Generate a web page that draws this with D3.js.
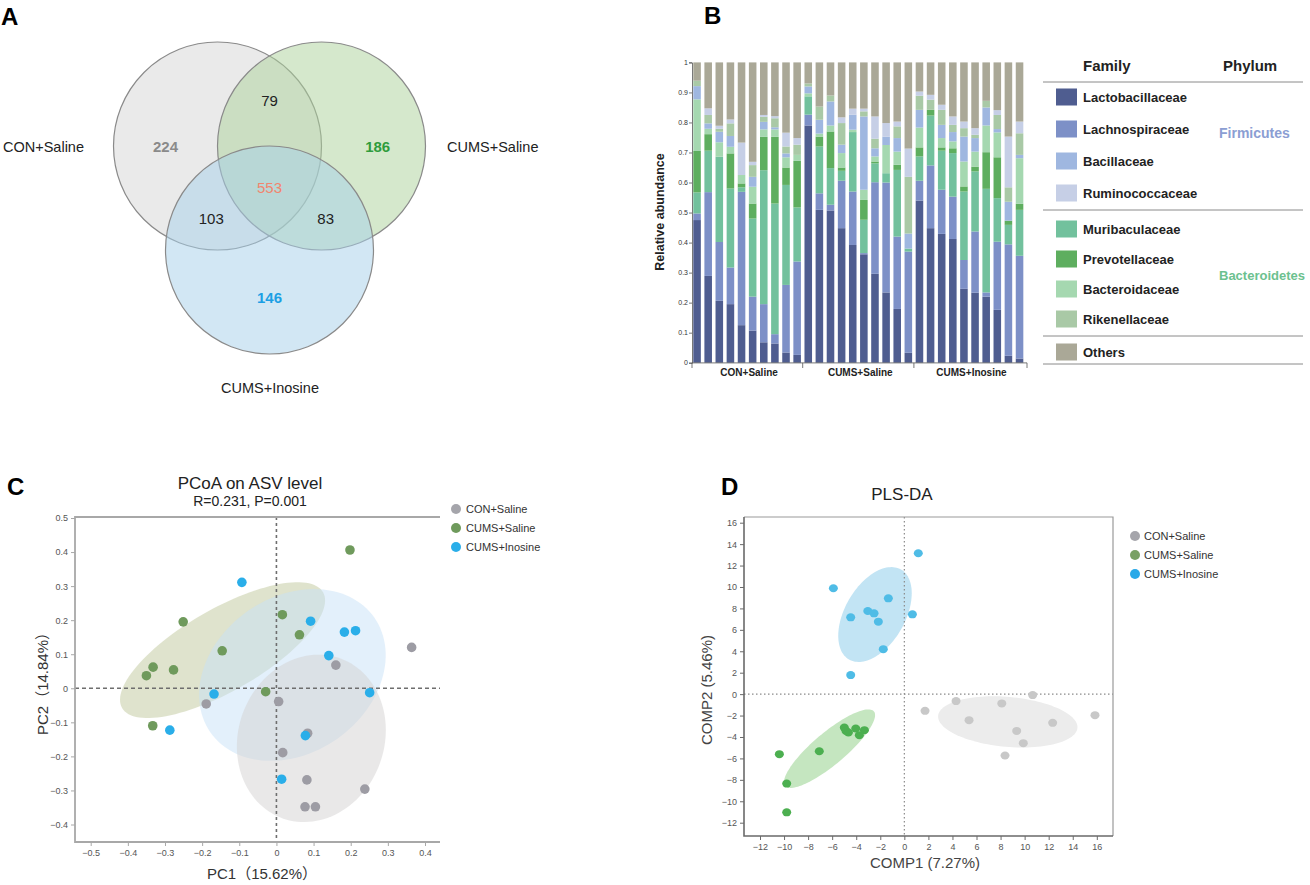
<!DOCTYPE html>
<html><head><meta charset="utf-8">
<script src="https://cdn.jsdelivr.net/npm/d3@7"></script>
<style>
body{margin:0;background:#fff}
svg{display:block}
text{font-family:"Liberation Sans",Arial,"Noto Sans CJK SC",sans-serif}
</style>
</head><body>
<svg id="fig" width="1310" height="885"></svg>
<script>
// ---------------- DATA ----------------
// Panel A (Venn)
const vennSets = ["CON+Saline", "CUMS+Saline", "CUMS+Inosine"];
const vennRegionKeys = ["A", "B", "C", "AB", "AC", "BC", "ABC"];
const vennCounts = [224, 186, 146, 79, 103, 83, 553];

// Panel B (stacked relative abundance)
const groupsB = ["CON+Saline", "CUMS+Saline", "CUMS+Inosine"];
const samplesB = d3.range(30).map(i => groupsB[Math.floor(i / 10)] + "_" + (i % 10 + 1));
const families = ["Lactobacillaceae", "Lachnospiraceae", "Bacillaceae", "Ruminococcaceae",
  "Muribaculaceae", "Prevotellaceae", "Bacteroidaceae", "Rikenellaceae", "Others"];
const phyla = ["Firmicutes", "Bacteroidetes"];
const lactobacillaceae = [.475,.289,.206,.195,.125,.107,.068,.064,.034,.026, .790,.509,.507,.448,.392,.361,.296,.234,.179,.033, .540,.448,.429,.412,.246,.233,.220,.176,.023,.014];
const lachnospiraceae  = [.022,.279,.196,.122,.444,.113,.127,.031,.225,.311, .036,.055,.019,.158,.178,.004,.305,.366,.241,.337, .066,.209,.147,.141,.096,.204,.014,.227,.371,.342];
const muribaculaceae   = [.070,.138,.284,.263,.015,.260,.446,.435,.333,.180, .061,.156,.122,.033,.198,.111,.063,.031,.222,.010, .081,.166,.130,.145,.228,.200,.345,.145,.065,.153];
const prevotellaceae   = [.138,.055,0,.117,.013,.050,.111,.222,.058,.155, 0,.033,.122,.011,0,.066,.006,0,.017,0, .030,.019,.011,.016,.017,.016,.122,.136,.014,.020];
const bacteroidaceae   = [.172,.018,.048,.022,.028,.056,.025,.025,.034,.020, .010,.010,.020,.048,.008,.034,.017,.094,.044,0, .066,0,.031,.023,.083,.050,.089,.083,0,.152];
const bacillaceae      = [.044,.018,.035,.036,0,.033,.025,.007,.013,0, .023,.046,.080,.028,.050,.244,.027,.028,.045,.050, .059,0,.044,.031,.083,.045,.060,.011,.063,.011];
const rikenellaceae    = [.018,.028,.010,.042,0,.039,.017,.030,.023,.034, .010,.044,.020,.072,0,.017,.032,0,.039,.189, .047,.034,.050,.024,.028,.011,.022,.047,.048,.072];
const ruminococcaceae  = [0,.022,.010,.013,.108,.011,.006,.007,.046,.022, 0,0,0,.019,.020,.009,.074,.045,.016,.094, .014,.016,.017,.028,.022,.022,0,.016,.169,.039];
const others           = [.061,.153,.211,.190,.267,.331,.175,.179,.234,.252, .070,.147,.110,.183,.154,.154,.180,.202,.197,.287, .097,.108,.141,.180,.197,.219,.128,.159,.247,.197];
const yTicksB = d3.range(0, 11).map(i => i / 10);

// Panel C (PCoA)
const groupNames = ["CON+Saline", "CUMS+Saline", "CUMS+Inosine"];
const pcoaCON  = [[0.364,0.12],[0.16,0.068],[-0.189,-0.046],[0.006,-0.039],[0.084,-0.132],[0.017,-0.189],[0.082,-0.269],[0.238,-0.296],[0.077,-0.348],[0.105,-0.348]];
const pcoaCUMS = [[-0.251,0.195],[-0.332,0.062],[-0.350,0.037],[-0.277,0.054],[-0.146,0.11],[0.198,0.406],[0.016,0.216],[0.062,0.157],[-0.029,-0.01],[-0.333,-0.11]];
const pcoaINO  = [[-0.093,0.311],[-0.168,-0.017],[0.092,0.197],[0.183,0.165],[0.213,0.169],[0.141,0.096],[0.251,-0.013],[-0.287,-0.123],[0.078,-0.139],[0.014,-0.267]];
// confidence ellipses: centre, major half-axis vector, minor half-axis vector (data units)
const pcoaEllCON  = {c:[0.094,-0.147], u:[0.0783,0.2345], v:[0.1846,-0.0734]};
const pcoaEllCUMS = {c:[-0.145,0.112], u:[0.2705,0.170], v:[0.0552,-0.1042]};
const pcoaEllINO  = {c:[0.043,0.039], u:[0.2205,0.1685], v:[0.1204,-0.1876]};
const pcoaXTicks = [-0.5,-0.4,-0.3,-0.2,-0.1,0,0.1,0.2,0.3,0.4];
const pcoaYTicks = [0.5,0.4,0.3,0.2,0.1,0,-0.1,-0.2,-0.3,-0.4];

// Panel D (PLS-DA)
const plsCON  = [[1.72,-1.56],[4.3,-0.65],[5.38,-2.43],[8.1,-0.87],[8.37,-5.73],[9.34,-3.43],[10.67,-0.09],[15.85,-1.96],[12.33,-2.68],[9.89,-4.58]];
const plsCUMS = [[-10.39,-5.6],[-9.78,-8.35],[-9.78,-11.03],[-7.07,-5.33],[-4.99,-3.12],[-4.85,-3.43],[-4.65,-3.58],[-4.04,-3.21],[-3.32,-3.36],[-3.74,-3.83]];
const plsINO  = [[1.16,13.15],[-5.9,9.88],[-1.33,8.94],[-3.04,7.76],[-2.52,7.54],[-4.46,7.17],[-2.16,6.76],[0.67,7.45],[-1.75,4.2],[-4.46,1.78]];
const plsEllCON  = {c:[8.6,-2.59], u:[5.79,-0.57], v:[-0.181,-2.32]};
const plsEllCUMS = {c:[-6.22,-5.09], u:[3.69,3.48], v:[0.856,-1.15]};
const plsEllINO  = {c:[-2.44,7.43], u:[2.16,4.20], v:[2.16,-1.40]};
const plsTicks = d3.range(-12, 17, 2);

// ---------------- DRAW ----------------
const svg = d3.select("#fig");
const FONT = '"Liberation Sans",Arial,"Noto Sans CJK SC",sans-serif';

function letter(t, x, y) {
  svg.append("text").attr("x", x).attr("y", y).text(t)
    .attr("font-size", 24).attr("font-weight", "bold").attr("fill", "#000");
}
letter("A", 1, 25); letter("B", 704, 24); letter("C", 7, 495); letter("D", 721, 495);

// ===== Panel A: Venn =====
(function () {
  const ux = d3.scaleLinear().domain([-1, 1]).range([269.5 - 104, 269.5 + 104]);
  const uy = d3.scaleLinear().domain([-1, 1]).range([198 - 104, 198 + 104]);
  const centers = [[-0.5, -0.5], [0.5, -0.5], [0, 0.5]];
  const fills = ["#d6d6d6", "#acd299", "#a6d0ea"];
  const g = svg.append("g");
  g.selectAll("circle").data(vennSets).join("circle")
    .attr("cx", (d, i) => ux(centers[i][0]))
    .attr("cy", (d, i) => uy(centers[i][1]))
    .attr("r", ux(1) - ux(0))
    .attr("fill", (d, i) => fills[i]).attr("fill-opacity", 0.5)
    .attr("stroke", "#8a8a8a").attr("stroke-width", 1.2);
  const pos = {A:[-1.0,-0.49], B:[1.04,-0.49], C:[0,0.96], AB:[0,-0.94], AC:[-0.56,0.2], BC:[0.54,0.2], ABC:[0,-0.1]};
  const col = {A:"#8a8a8a", B:"#2f9c3c", C:"#1c9fe4", AB:"#222", AC:"#222", BC:"#222", ABC:"#f2856e"};
  const bold = {A:1, B:1, C:1};
  g.selectAll("text.cnt").data(vennRegionKeys).join("text").attr("class", "cnt")
    .attr("x", k => ux(pos[k][0])).attr("y", k => uy(pos[k][1]))
    .attr("dy", "0.36em").attr("text-anchor", "middle")
    .attr("font-size", 15).attr("font-weight", k => bold[k] ? "bold" : "normal")
    .attr("fill", k => col[k])
    .text((k, i) => vennCounts[i]);
  const lab = [[3, 147, "start"], [447, 147, "start"], [270, 388, "middle"]];
  g.selectAll("text.set").data(vennSets).join("text").attr("class", "set")
    .attr("x", (d, i) => lab[i][0]).attr("y", (d, i) => lab[i][1])
    .attr("dy", "0.36em").attr("text-anchor", (d, i) => lab[i][2])
    .attr("font-size", 14.5).attr("fill", "#222").text(d => d);
})();

// ===== Panel B: stacked bars =====
(function () {
  const series = {
    "Lactobacillaceae": lactobacillaceae, "Lachnospiraceae": lachnospiraceae,
    "Bacillaceae": bacillaceae, "Ruminococcaceae": ruminococcaceae,
    "Muribaculaceae": muribaculaceae, "Prevotellaceae": prevotellaceae,
    "Bacteroidaceae": bacteroidaceae, "Rikenellaceae": rikenellaceae, "Others": others
  };
  const colors = {
    "Lactobacillaceae": "#4f5d90", "Lachnospiraceae": "#7d90c7", "Bacillaceae": "#9fb7e0",
    "Ruminococcaceae": "#c6cfe6", "Muribaculaceae": "#72c19d", "Prevotellaceae": "#5eae5f",
    "Bacteroidaceae": "#a5d8b0", "Rikenellaceae": "#a9c9a6", "Others": "#aaa897"
  };
  const stackOrder = ["Lactobacillaceae", "Lachnospiraceae", "Muribaculaceae", "Prevotellaceae",
    "Bacteroidaceae", "Bacillaceae", "Rikenellaceae", "Ruminococcaceae", "Others"];
  const table = samplesB.map((s, i) => {
    const o = {sample: s};
    families.forEach(f => o[f] = series[f][i]);
    return o;
  });
  const stacked = d3.stack().keys(stackOrder)(table);
  const x = d3.scaleBand().domain(samplesB).range([691.5, 1025.1]).paddingInner(0.32).paddingOuter(0.16);
  const y = d3.scaleLinear().domain([0, 1]).range([362.7, 62.4]);
  const g = svg.append("g");
  g.selectAll("g.s").data(stacked).join("g").attr("class", "s")
    .attr("fill", d => colors[d.key])
    .selectAll("rect").data(d => d).join("rect")
    .attr("x", d => x(d.data.sample)).attr("width", x.bandwidth())
    .attr("y", d => y(Math.min(1, d[1]))).attr("height", d => Math.max(0, y(d[0]) - y(Math.min(1, d[1]))));
  // y axis
  const ax = g.append("g").attr("transform", "translate(692,0)")
    .call(d3.axisLeft(y).tickValues(yTicksB).tickSize(3).tickFormat(d => d === 0 ? "0" : d === 1 ? "1" : d3.format(".1f")(d)));
  ax.selectAll("text").attr("font-size", 7).attr("fill", "#333").attr("font-family", FONT).attr("x", -4);
  ax.selectAll("line,path").attr("stroke", "#555").attr("stroke-width", 0.8);
  // x axis line with group dividers
  g.append("line").attr("x1", 692).attr("x2", 1027).attr("y1", 362.9).attr("y2", 362.9).attr("stroke", "#555").attr("stroke-width", 0.8);
  const divs = [0, 10, 20, 30];
  divs.forEach(k => {
    const xx = k === 0 ? 692 : k === 30 ? 1027 : (x(samplesB[k - 1]) + x.bandwidth() + x(samplesB[k])) / 2;
    g.append("line").attr("x1", xx).attr("x2", xx).attr("y1", 362.9).attr("y2", 368).attr("stroke", "#555").attr("stroke-width", 0.8);
  });
  groupsB.forEach((gn, gi) => {
    const x0 = x(samplesB[gi * 10]), x1 = x(samplesB[gi * 10 + 9]) + x.bandwidth();
    g.append("text").attr("x", (x0 + x1) / 2 + 2).attr("y", 376).attr("text-anchor", "middle")
      .attr("font-size", 10).attr("font-weight", "bold").attr("fill", "#222").text(gn);
  });
  g.append("text").attr("transform", "translate(664,212) rotate(-90)").attr("text-anchor", "middle")
    .attr("font-size", 12.5).attr("font-weight", "bold").attr("fill", "#222").text("Relative abundance");

  // legend table
  const L = svg.append("g");
  L.append("text").attr("x", 1083).attr("y", 71).attr("font-size", 15).attr("font-weight", "bold").attr("fill", "#222").text("Family");
  L.append("text").attr("x", 1223).attr("y", 71).attr("font-size", 15).attr("font-weight", "bold").attr("fill", "#222").text("Phylum");
  [82, 210, 336, 364].forEach(yy => L.append("line").attr("x1", 1043).attr("x2", 1303).attr("y1", yy).attr("y2", yy)
    .attr("stroke", "#8a8a8a").attr("stroke-width", 1));
  const rowY = (i) => i < 4 ? 97 + 32 * i : i < 8 ? 229 + 30 * (i - 4) : 352;
  L.selectAll("rect.sw").data(families).join("rect").attr("class", "sw")
    .attr("x", 1056).attr("width", 21).attr("y", (d, i) => rowY(i) - 8.5).attr("height", 17)
    .attr("fill", d => colors[d]);
  L.selectAll("text.fam").data(families).join("text").attr("class", "fam")
    .attr("x", 1083).attr("y", (d, i) => rowY(i)).attr("dy", "0.36em")
    .attr("font-size", 13).attr("font-weight", "bold").attr("fill", "#222").text(d => d);
  const phyCol = ["#8b9ed3", "#6cc18f"], phyY = [133, 275], phySize = [14, 13];
  L.selectAll("text.phy").data(phyla).join("text").attr("class", "phy")
    .attr("x", 1219).attr("y", (d, i) => phyY[i]).attr("dy", "0.36em")
    .attr("font-size", (d, i) => phySize[i]).attr("font-weight", "bold").attr("fill", (d, i) => phyCol[i]).text(d => d);
})();

function ellPath(e, xs, ys) {
  const pts = d3.range(0, 361, 3).map(t => {
    const r = t * Math.PI / 180;
    return [xs(e.c[0] + Math.cos(r) * e.u[0] + Math.sin(r) * e.v[0]),
            ys(e.c[1] + Math.cos(r) * e.u[1] + Math.sin(r) * e.v[1])];
  });
  return d3.line()(pts) + "Z";
}

// ===== Panel C: PCoA =====
(function () {
  const x = d3.scaleLinear().domain([-0.5, 0.4]).range([90.7, 425]);
  const y = d3.scaleLinear().domain([0.5, -0.4]).range([518, 824.5]);
  const L = 75, R = 440, T = 517, B = 842;
  const g = svg.append("g");
  g.append("text").attr("x", 250).attr("y", 489).attr("text-anchor", "middle").attr("font-size", 17).attr("fill", "#222").text("PCoA on ASV level");
  g.append("text").attr("x", 250).attr("y", 506).attr("text-anchor", "middle").attr("font-size", 14).attr("fill", "#222").text("R=0.231, P=0.001");
  const ells = [[pcoaEllCUMS, "#bfc79c"], [pcoaEllINO, "#c8e2f7"], [pcoaEllCON, "#d4d1d1"]];
  g.selectAll("path.ell").data(ells).join("path").attr("class", "ell")
    .attr("d", d => ellPath(d[0], x, y)).attr("fill", d => d[1]).attr("fill-opacity", 0.5);
  // dashed zero lines
  g.append("line").attr("x1", L).attr("x2", R).attr("y1", y(0)).attr("y2", y(0)).attr("stroke", "#6e6e6e").attr("stroke-width", 1.6).attr("stroke-dasharray", "4,3");
  g.append("line").attr("x1", x(0)).attr("x2", x(0)).attr("y1", T).attr("y2", B).attr("stroke", "#6e6e6e").attr("stroke-width", 1.6).attr("stroke-dasharray", "3,3");
  // frame
  g.append("path").attr("d", `M${R},${T}H${L}V${B}H${R}`).attr("fill", "none").attr("stroke", "#a8a8a8").attr("stroke-width", 1.8);
  const xa = g.append("g").attr("transform", `translate(0,${B})`).call(d3.axisBottom(x).tickValues(pcoaXTicks).tickSize(4).tickFormat(d3.format("")));
  xa.select(".domain").remove();
  xa.selectAll("line").attr("stroke", "#a8a8a8");
  xa.selectAll("text").attr("font-size", 9).attr("fill", "#555").attr("font-family", FONT).attr("y", 8);
  const ya = g.append("g").attr("transform", `translate(${L},0)`).call(d3.axisLeft(y).tickValues(pcoaYTicks).tickSize(4).tickFormat(d3.format("")));
  ya.select(".domain").remove();
  ya.selectAll("line").attr("stroke", "#a8a8a8");
  ya.selectAll("text").attr("font-size", 9).attr("fill", "#555").attr("font-family", FONT).attr("x", -7);
  g.append("text").attr("x", 262).attr("y", 879).attr("text-anchor", "middle").attr("font-size", 15).attr("fill", "#333").text("PC1（15.62%）");
  g.append("text").attr("transform", "translate(48,680) rotate(-90)").attr("text-anchor", "middle").attr("font-size", 15).attr("fill", "#333").text("PC2（14.84%）");
  const sets = [[pcoaCON, "#9d9ca4"], [pcoaCUMS, "#6f9a5c"], [pcoaINO, "#2aaee9"]];
  sets.forEach(([pts, c]) => {
    g.append("g").selectAll("circle").data(pts).join("circle")
      .attr("cx", d => x(d[0])).attr("cy", d => y(d[1])).attr("r", 4.8).attr("fill", c);
  });
  // legend
  const lc = ["#a5a5ab", "#6f9a5c", "#2aaee9"];
  const lg = g.append("g");
  lg.selectAll("circle").data(groupNames).join("circle").attr("cx", 456).attr("cy", (d, i) => 509 + 19 * i).attr("r", 5).attr("fill", (d, i) => lc[i]);
  lg.selectAll("text").data(groupNames).join("text").attr("x", 466).attr("y", (d, i) => 509 + 19 * i).attr("dy", "0.36em")
    .attr("font-size", 11).attr("fill", "#333").text(d => d);
})();

// ===== Panel D: PLS-DA =====
(function () {
  const x = d3.scaleLinear().domain([-12, 16]).range([760, 1096.8]);
  const y = d3.scaleLinear().domain([16, -12]).range([522.7, 822.7]);
  const L = 744, R = 1113, T = 517, B = 836;
  const g = svg.append("g");
  g.append("text").attr("x", 902).attr("y", 500).attr("text-anchor", "middle").attr("font-size", 17).attr("fill", "#222").text("PLS-DA");
  const ells = [[plsEllCON, "#ececec"], [plsEllCUMS, "#c5e6c0"], [plsEllINO, "#c2e4f4"]];
  g.selectAll("path.ell").data(ells).join("path").attr("class", "ell")
    .attr("d", d => ellPath(d[0], x, y)).attr("fill", d => d[1]);
  g.append("line").attr("x1", L).attr("x2", R).attr("y1", y(0)).attr("y2", y(0)).attr("stroke", "#8a8a8a").attr("stroke-width", 1.2).attr("stroke-dasharray", "1.5,2.5");
  g.append("line").attr("x1", x(0)).attr("x2", x(0)).attr("y1", T).attr("y2", B).attr("stroke", "#8a8a8a").attr("stroke-width", 1.2).attr("stroke-dasharray", "1.5,2.5");
  g.append("path").attr("d", `M${L},${T}H${R}V${B}`).attr("fill", "none").attr("stroke", "#9a9a9a").attr("stroke-width", 1.2);
  g.append("path").attr("d", `M${L},${T}V${B}H${R}`).attr("fill", "none").attr("stroke", "#6a6a6a").attr("stroke-width", 1.6);
  const xa = g.append("g").attr("transform", `translate(0,${B})`).call(d3.axisBottom(x).tickValues(plsTicks).tickSize(4));
  xa.select(".domain").remove();
  xa.selectAll("line").attr("stroke", "#6a6a6a");
  xa.selectAll("text").attr("font-size", 9).attr("fill", "#555").attr("font-family", FONT).attr("y", 8);
  const ya = g.append("g").attr("transform", `translate(${L},0)`).call(d3.axisLeft(y).tickValues(plsTicks).tickSize(4));
  ya.select(".domain").remove();
  ya.selectAll("line").attr("stroke", "#6a6a6a");
  ya.selectAll("text").attr("font-size", 9).attr("fill", "#555").attr("font-family", FONT).attr("x", -7);
  g.append("text").attr("x", 925).attr("y", 868).attr("text-anchor", "middle").attr("font-size", 15).attr("fill", "#444").text("COMP1 (7.27%)");
  g.append("text").attr("transform", "translate(712,690) rotate(-90)").attr("text-anchor", "middle").attr("font-size", 15).attr("fill", "#444").text("COMP2 (5.46%)");
  const sets = [[plsCON, "#c8c8c8"], [plsCUMS, "#4caf50"], [plsINO, "#4fbce6"]];
  sets.forEach(([pts, c]) => {
    g.append("g").selectAll("ellipse").data(pts).join("ellipse")
      .attr("cx", d => x(d[0])).attr("cy", d => y(d[1])).attr("rx", 4.5).attr("ry", 4).attr("fill", c);
  });
  const lc = ["#a5a5ab", "#79a064", "#29a9e8"];
  const lg = g.append("g");
  lg.selectAll("circle").data(groupNames).join("circle").attr("cx", 1135).attr("cy", (d, i) => 536 + 19 * i).attr("r", 5).attr("fill", (d, i) => lc[i]);
  lg.selectAll("text").data(groupNames).join("text").attr("x", 1144).attr("y", (d, i) => 536 + 19 * i).attr("dy", "0.36em")
    .attr("font-size", 11).attr("fill", "#333").text(d => d);
})();
</script>
</body></html>
